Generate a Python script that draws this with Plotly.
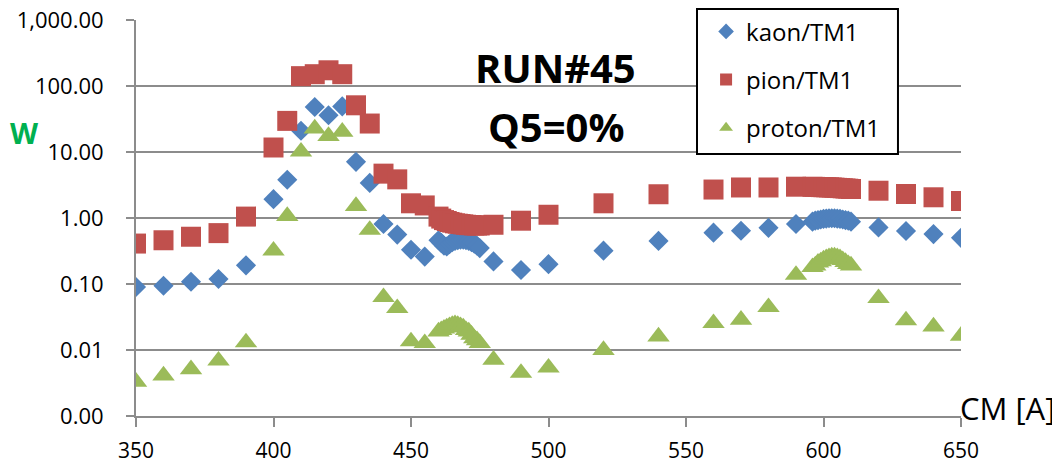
import plotly.graph_objects as go

cm = [350, 360, 370, 380, 390, 400, 405, 410, 415, 420, 425, 430, 435, 440, 445, 450, 455,
      460, 461, 462, 463, 464, 465, 466, 467, 468, 469, 470, 471, 472, 473, 474, 475,
      480, 490, 500, 520, 540, 560, 570, 580, 590,
      596, 597, 598, 599, 600, 601, 602, 603, 604, 605, 606, 607, 608, 609, 610,
      620, 630, 640, 650]

kaon = [0.09, 0.094, 0.108, 0.119, 0.192, 1.93, 3.8, 21, 48, 36, 49, 7.1, 3.4, 0.81, 0.56, 0.33, 0.26,
        0.46, 0.42, 0.38, 0.37, 0.40, 0.43, 0.45, 0.46, 0.47, 0.47, 0.46, 0.45, 0.43, 0.41, 0.38, 0.35,
        0.22, 0.163, 0.20, 0.32, 0.45, 0.60, 0.64, 0.71, 0.81,
        0.88, 0.91, 0.93, 0.95, 0.97, 0.98, 0.99, 0.99, 0.99, 0.98, 0.97, 0.95, 0.93, 0.91, 0.88,
        0.72, 0.635, 0.57, 0.50]

pion = [0.41, 0.46, 0.52, 0.59, 1.05, 11.7, 29.6, 141, 151, 173, 151, 51, 27, 4.7, 3.85, 1.67, 1.55,
        1.05, 0.98, 0.93, 0.90, 0.87, 0.85, 0.83, 0.82, 0.81, 0.80, 0.79, 0.78, 0.78, 0.77, 0.77, 0.77,
        0.79, 0.91, 1.12, 1.67, 2.29, 2.7, 2.9, 2.9, 2.98,
        2.97, 2.96, 2.95, 2.94, 2.93, 2.92, 2.91, 2.90, 2.88, 2.86, 2.84, 2.82, 2.80, 2.78, 2.75,
        2.59, 2.31, 2.06, 1.81]

proton = [0.0033, 0.0041, 0.0051, 0.0069, 0.013, 0.32, 1.07, 10.1, 22.7, 17.4, 20.2, 1.52, 0.66, 0.063, 0.043, 0.0135, 0.0127,
          0.019, 0.020, 0.021, 0.022, 0.023, 0.024, 0.0245, 0.024, 0.023, 0.022, 0.020, 0.019, 0.017, 0.015, 0.014, 0.0127,
          0.0071, 0.0045, 0.0054, 0.010, 0.016, 0.0255, 0.0287, 0.0446, 0.137,
          0.18, 0.19, 0.21, 0.22, 0.235, 0.245, 0.255, 0.26, 0.26, 0.255, 0.245, 0.23, 0.215, 0.20, 0.19,
          0.061, 0.028, 0.0227, 0.0164]

series_names = ["kaon/TM1", "pion/TM1", "proton/TM1"]
y_ticks = [0.001, 0.01, 0.1, 1, 10, 100, 1000]
x_ticks = [350, 400, 450, 500, 550, 600, 650]

FONT = "Open Sans"
GRID = "#8c8c8c"

fig = go.Figure()
specs = [
    (series_names[0], kaon, "diamond", "#4F81BD", 15.5),
    (series_names[1], pion, "square", "#C0504D", 20),
    (series_names[2], proton, "triangle-up", "#9BBB59", 19.5),
]
for i, (name, ys, sym, col, sz) in enumerate(specs):
    fig.add_trace(go.Scatter(
        x=cm, y=ys, name=name, mode="markers", legendgroup=f"g{i}",
        marker=dict(symbol=sym, color=col, size=sz, line=dict(width=0)),
    ))

fig.update_layout(
    width=1052, height=458,
    margin=dict(l=128, r=99, t=12, b=50, autoexpand=False),
    paper_bgcolor="white", plot_bgcolor="white",
    font=dict(family=FONT, size=22, color="black"),
    showlegend=True,
    legend=dict(
        x=0.691, y=1.027, xanchor="left", yanchor="top",
        bgcolor="rgba(0,0,0,0)", borderwidth=0,
        font=dict(family=FONT, size=24, color="black"),
        tracegroupgap=14, itemsizing="constant",
    ),
    shapes=[
        dict(type="rect", xref="paper", yref="paper", x0=0.68, x1=0.9236, y0=0.6616, y1=1.0278,
             fillcolor="white", line=dict(color="black", width=2), layer="above"),
    ],
    xaxis=dict(
        range=[350, 650], tickvals=x_ticks, showgrid=False, zeroline=False,
        showline=True, linecolor=GRID, linewidth=2,
        ticks="outside", ticklen=9, tickcolor=GRID, tickwidth=2,
        tickfont=dict(family=FONT, size=21), ticklabelstandoff=6,
        ticklabeloverflow="allow",
    ),
    yaxis=dict(
        type="log", range=[-3, 3], tickvals=y_ticks, tickformat=",.2f",
        showgrid=True, gridcolor=GRID, gridwidth=2, zeroline=False,
        showline=True, linecolor=GRID, linewidth=2,
        ticks="outside", ticklen=8, tickcolor=GRID, tickwidth=2,
        tickfont=dict(family=FONT, size=22), ticklabelstandoff=18,
        ticklabeloverflow="allow",
    ),
    annotations=[
        dict(text="<b>RUN#45</b>", x=0.509, y=0.88, xref="paper", yref="paper",
             showarrow=False, font=dict(family=FONT, size=40, color="black"),
             xanchor="center", yanchor="middle"),
        dict(text="<b>Q5=0%</b>", x=0.509, y=0.731, xref="paper", yref="paper",
             showarrow=False, font=dict(family=FONT, size=40, color="black"),
             xanchor="center", yanchor="middle"),
        dict(text="<b>W</b>", x=-0.135, y=0.717, xref="paper", yref="paper",
             showarrow=False, font=dict(family=FONT, size=29, color="#00B050"),
             xanchor="center", yanchor="middle"),
        dict(text="CM [A]", x=1.0558, y=0.02, xref="paper", yref="paper",
             showarrow=False, font=dict(family=FONT, size=31, color="black"),
             xanchor="center", yanchor="middle"),
    ],
)

fig.write_html("out.html")
